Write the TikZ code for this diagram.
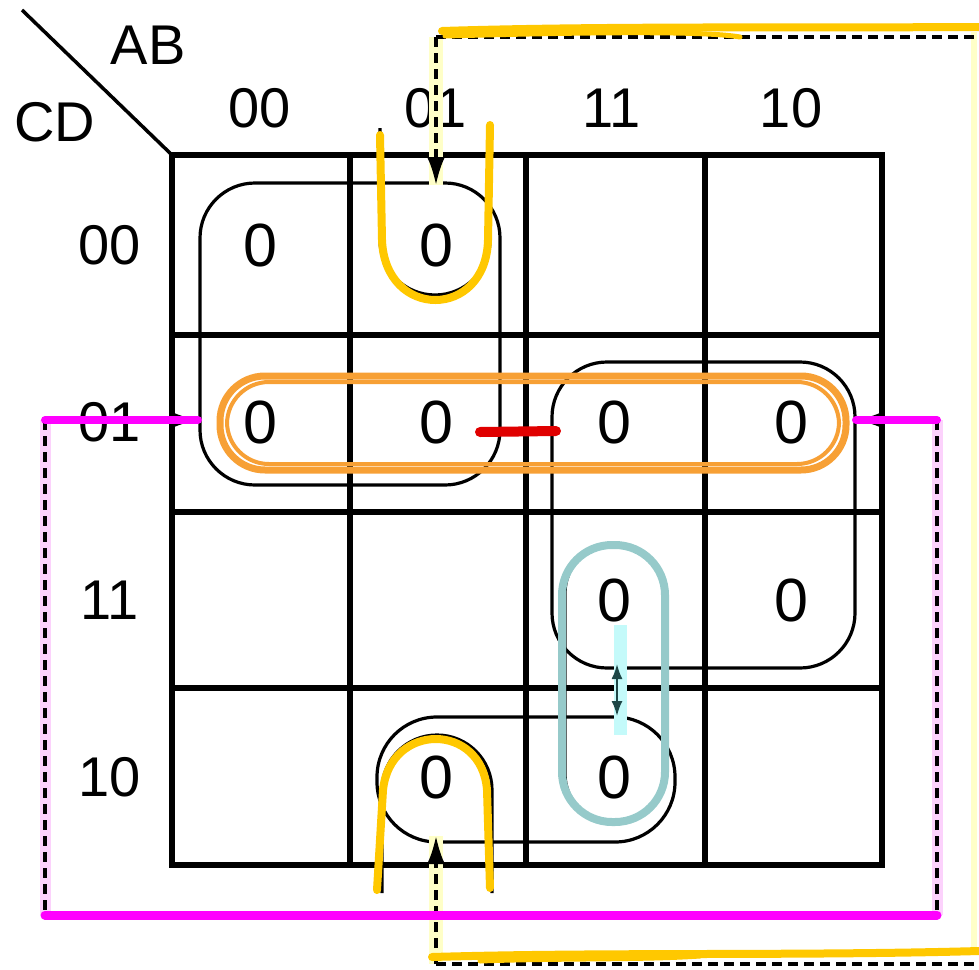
\documentclass[tikz,border=0pt]{standalone}
\usepackage{fontspec}
\setmainfont{Liberation Sans}
\usetikzlibrary{arrows.meta,positioning}
\definecolor{hlyellow}{HTML}{FFC800}
\definecolor{hlorange}{HTML}{F7A035}
\definecolor{hlmagenta}{HTML}{FF00FF}
\definecolor{hlteal}{HTML}{96CACA}
\definecolor{hlred}{HTML}{E00000}
\definecolor{hlcyan}{HTML}{C4FAFA}
\definecolor{paleyellow}{HTML}{FFFFC8}
\definecolor{palepink}{HTML}{FCD2FC}
\definecolor{darkteal}{HTML}{1E4646}
\tikzstyle{cellval} = [font=\fontsize{61}{64}\selectfont, inner sep=0pt]
\tikzstyle{header} = [font=\fontsize{56}{60}\selectfont, inner sep=0pt]
\tikzstyle{gridline} = [line width=6pt]
\tikzstyle{group} = [line width=3.2pt, rounded corners=55pt]
\tikzstyle{wrapline} = [line width=3.2pt, dash pattern=on 10pt off 6pt]
\tikzstyle{wrap} = [wrapline, -{Latex[length=28pt,width=18pt]}]
\tikzstyle{marker} = [line width=8pt, line cap=round, line join=round]

\begin{document}
\begin{tikzpicture}[x=1pt,y=-1pt]
\useasboundingbox (0,0) rectangle (979,969);

% map grid
\draw[gridline] (172,155) rectangle (882,865);
\draw[gridline] (350,155) -- (350,865) (526,155) -- (526,865) (705,155) -- (705,865);
\draw[gridline] (172,335) -- (882,335) (172,512) -- (882,512) (172,688) -- (882,688);
\draw[line width=3.5pt] (22,10) -- (172,155);

% variable names and headers
\node[header] (ab) at (148,45) {AB};
\node[header] (cd) at (55,122) {CD};
\node[header] (col00) at (260,108) {00};
\node[header] (col01) at (436,108) {01};
\node[header] (col11) at (612,108) {11};
\node[header] (col10) at (791,108) {10};
\node[header] (row00) at (110,245) {00};
\node[header] (row01) at (110,422) {01};
\node[header] (row11) at (110,600) {11};
\node[header] (row10) at (110,777) {10};

% cell values
\node[cellval] (m0000) at (260,245) {0};
\node[cellval] (m0100) at (436,245) {0};
\node[cellval] (m0001) at (260,422) {0};
\node[cellval] (m0101) at (436,422) {0};
\node[cellval] (m1101) at (614,422) {0};
\node[cellval] (m1001) at (791,422) {0};
\node[cellval] (m1111) at (614,600) {0};
\node[cellval] (m1011) at (791,600) {0};
\node[cellval] (m0110) at (436,777) {0};
\node[cellval] (m1110) at (614,777) {0};

% groups
\draw[group] (200,183) rectangle (500,485);
\draw[group] (552,362) rectangle (855,668);
\draw[group, rounded corners=60pt] (377,717) rectangle (675,842);
\draw[group, rounded corners=48pt] (565,545) rectangle (663,822);
\draw[line width=3.2pt] (380,128) -- (380,240) arc[start angle=180, end angle=360, radius=55pt] -- (490,128);
\draw[line width=3.2pt] (382,893) -- (382,790) arc[start angle=180, end angle=0, radius=55pt] -- (492,893);

% wrap-around connectors
\coordinate (topin) at (436,185);
\coordinate (topcorner) at (436,37);
\coordinate (topright) at (979,37);
\coordinate (botin) at (436,836);
\coordinate (botcorner) at (436,964);
\coordinate (botright) at (979,964);
\coordinate (lin) at (198,420);
\coordinate (lcorner) at (45,420);
\coordinate (lbottom) at (45,915);
\coordinate (rbottom) at (937,915);
\coordinate (rcorner) at (937,420);
\coordinate (rin) at (856,420);

\draw[paleyellow, line width=14pt] (topcorner) -- (topin);
\draw[paleyellow, line width=14pt] (botcorner) -- (botin);
\draw[paleyellow, line width=6pt] (974,32) -- (974,955);
\draw[palepink, line width=11pt] (lcorner) -- (lbottom);
\draw[palepink, line width=11pt] (rcorner) -- (rbottom);

\draw[wrap] (topcorner) -- (topin);
\draw[wrapline] (topcorner) -- (topright);
\draw[wrap] (botcorner) -- (botin);
\draw[wrapline] (botcorner) -- (botright);
\draw[wrap] (lcorner) -- (lin);
\draw[wrapline] (lcorner) -- (lbottom) -- (rbottom) -- (rcorner);
\draw[wrap] (rcorner) -- (rin);

% hand-drawn marks
\draw[marker, hlyellow] (442,31) .. controls (600,26) and (800,28) .. (979,27);
\draw[marker, hlyellow, line width=5pt] (445,36) .. controls (560,33) and (700,30) .. (740,37);
\draw[marker, hlyellow] (432,957) .. controls (600,952) and (800,956) .. (979,951);
\draw[marker, hlyellow, line width=5pt] (480,961) .. controls (560,958) and (640,960) .. (700,956);
\draw[marker, hlmagenta] (lcorner) -- (lin);
\draw[marker, hlmagenta] (rin) -- (rcorner);
\draw[marker, hlmagenta, line width=9pt] (lbottom) -- (rbottom);
\draw[marker, hlyellow] (380,135) -- (382,240) .. controls (385,320) and (486,320) .. (488,240) -- (490,125);
\draw[marker, hlyellow] (377,890) -- (383,790) .. controls (390,722) and (482,722) .. (487,790) -- (490,888);
\draw[marker, hlorange, line width=7pt, rounded corners=45pt] (220,376) rectangle (846,470);
\draw[marker, hlorange, line width=4pt, rounded corners=42pt] (227,382) rectangle (839,464);
\draw[marker, hlteal, rounded corners=50pt] (562,545) rectangle (665,822);
\draw[hlcyan, line width=13pt] (620,625) -- (620,735);
\draw[darkteal, line width=2pt, {Latex[length=15pt,width=11pt]}-{Latex[length=15pt,width=11pt]}] (617,664) -- (617,716);
\draw[marker, hlred, line width=10pt] (480,432) -- (556,431);
\end{tikzpicture}
\end{document}
